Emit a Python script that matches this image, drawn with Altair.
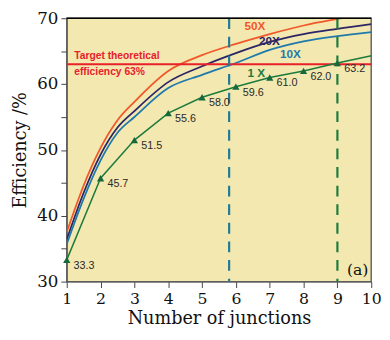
import altair as alt
import pandas as pd

# ---- data ----
curve_x = [1, 1.5, 2, 2.5, 3, 4, 5, 6, 7, 8, 9, 10]
eff_50x = [37.5, 44.6, 50.3, 54.5, 57.3, 62.0, 64.4, 66.1, 67.6, 68.9, 69.9, 70.8]
eff_20x = [36.4, 43.5, 49.3, 53.4, 55.9, 60.3, 62.7, 64.7, 66.4, 67.6, 68.4, 69.1]
eff_10x = [35.7, 42.6, 48.4, 52.6, 55.0, 59.4, 61.4, 63.2, 65.2, 66.5, 67.3, 67.9]

one_x_x = [1, 2, 3, 4, 5, 6, 7, 8, 9, 10]
one_x_y = [33.3, 45.7, 51.5, 55.6, 58.0, 59.6, 61.0, 62.0, 63.2, 64.3]
marker_x = [1, 2, 3, 4, 5, 6, 7, 8, 9]
marker_y = [33.3, 45.7, 51.5, 55.6, 58.0, 59.6, 61.0, 62.0, 63.2]
marker_lbl = ["33.3", "45.7", "51.5", "55.6", "58.0", "59.6", "61.0", "62.0", "63.2"]

series_names = ["50X", "20X", "10X", "1 X"]
series_colors = ["#f0582a", "#2c2566", "#1f7aab", "#1c7a3c"]
series_lbl_x = [6.56, 6.99, 7.61, 6.6]
series_lbl_y = [68.8, 66.5, 64.5, 61.6]

target_eff = 63
target_text = ["Target theoretical", "efficiency 63%"]
target_text_y = [64.3, 61.8]

dash_x = [5.8, 9]
dash_colors = ["#1f7a96", "#1c7a3c"]

x_ticks = list(range(1, 11))
y_ticks = list(range(30, 71, 5))

# ---- tables ----
curves = pd.DataFrame({
    "x": curve_x * 3,
    "y": eff_50x + eff_20x + eff_10x,
    "s": ["50X"] * len(curve_x) + ["20X"] * len(curve_x) + ["10X"] * len(curve_x),
})
onex = pd.DataFrame({"x": one_x_x, "y": one_x_y})
markers = pd.DataFrame({"x": marker_x, "y": marker_y, "t": marker_lbl})
slabels = pd.DataFrame({"x": series_lbl_x, "y": series_lbl_y, "t": series_names})
target = pd.DataFrame({"x": [1.22, 1.22], "y": target_text_y, "t": target_text})
dashes = pd.DataFrame({"x": dash_x, "c": dash_colors})

xs = alt.Scale(domain=[1, 10], nice=False, zero=False)
ys = alt.Scale(domain=[30, 70], nice=False, zero=False)
color_scale = alt.Scale(domain=series_names, range=series_colors)

serif = "DejaVu Serif"
x_axis = alt.Axis(values=x_ticks, title="Number of junctions", grid=False,
                  labelFont=serif, labelFontSize=16, titleFont=serif, titleFontSize=18,
                  titleFontWeight="normal", labelColor="#111", titleColor="#111",
                  tickSize=6, tickColor="#444", domainColor="#555", labelPadding=3,
                  titlePadding=4, labelFlush=False, labelOverlap=False)
y_axis = alt.Axis(values=y_ticks, title="Efficiency /%", grid=False,
                  labelExpr="datum.value % 10 == 0 ? datum.label : ''",
                  labelFont=serif, labelFontSize=17, titleFont=serif, titleFontSize=18,
                  titleFontWeight="normal", labelColor="#111", titleColor="#111",
                  tickSize=6, tickColor="#444", domainColor="#555", labelPadding=3,
                  titlePadding=7, labelOverlap=False)

X = alt.X("x:Q", scale=xs, axis=x_axis)
Y = alt.Y("y:Q", scale=ys, axis=y_axis)

curve_layer = alt.Chart(curves).mark_line(strokeWidth=1.8, clip=True, interpolate="monotone").encode(
    x=X, y=Y,
    color=alt.Color("s:N", scale=color_scale, legend=None),
    detail="s:N",
)

target_rule = alt.Chart(pd.DataFrame({"y": [target_eff]})).mark_rule(
    color="#e8202a", strokeWidth=2).encode(y=Y)

dash_layer = alt.Chart(dashes).mark_rule(strokeWidth=2.2, strokeDash=[11, 8]).encode(
    x=X,
    color=alt.Color("c:N", scale=None),
)

onex_line = alt.Chart(onex).mark_line(color="#1c7a3c", strokeWidth=1.5, clip=True).encode(
    x=X, y=Y)

marker_layer = alt.Chart(markers).mark_point(
    shape="triangle-up", filled=True, size=55, color="#16693a", opacity=1).encode(
    x=X, y=Y)

marker_text = alt.Chart(markers).mark_text(
    align="left", baseline="middle", dx=7, dy=6, font="Liberation Sans", fontSize=11,
    color="#2a2a2a").encode(x=X, y=Y, text="t:N")

series_text = alt.Chart(slabels).mark_text(
    align="center", baseline="middle", font="Liberation Sans", fontSize=12,
    fontWeight="bold").encode(
    x=X, y=Y, text="t:N",
    color=alt.Color("t:N", scale=color_scale, legend=None))

target_label = alt.Chart(target).mark_text(
    align="left", baseline="middle", font="Liberation Sans", fontSize=10.5,
    fontWeight="bold", color="#e8202a").encode(x=X, y=Y, text="t:N")

top_rule = alt.Chart(pd.DataFrame({"y": [70]})).mark_rule(
    color="#000", strokeWidth=1.5).encode(y=Y)

panel_label = alt.Chart(pd.DataFrame({"x": [9.6], "y": [31.8], "t": ["(a)"]})).mark_text(
    align="center", baseline="middle", font=serif, fontSize=16, color="#111").encode(
    x=X, y=Y, text="t:N")

chart = alt.layer(
    curve_layer, target_rule, dash_layer, onex_line, marker_layer, marker_text,
    series_text, target_label, top_rule, panel_label,
).properties(
    width=311, height=269,
    autosize=alt.AutoSizeParams(type="none"),
    padding={"left": 60, "top": 7, "right": 11, "bottom": 48},
    background="white",
).configure_view(
    fill="#f3e8b0", stroke="#666", strokeWidth=1.5,
)

chart.save("out.html", embed_options={"renderer": "svg", "actions": False})
